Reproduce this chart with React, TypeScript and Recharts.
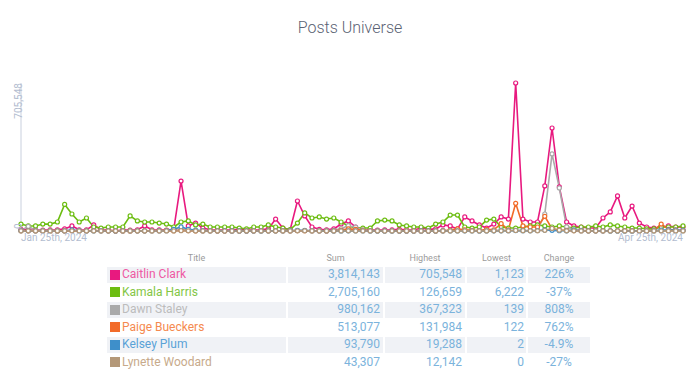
import React from 'react';
import { LineChart, Line, XAxis, YAxis } from 'recharts';

// one label per day, Jan 25th to Apr 25th 2024
const MONTHS = ['Jan', 'Feb', 'Mar', 'Apr'];
const ordinal = (d: number) => {
	if (d % 10 === 1 && d !== 11) return d + 'st';
	if (d % 10 === 2 && d !== 12) return d + 'nd';
	if (d % 10 === 3 && d !== 13) return d + 'rd';
	return d + 'th';
};
const DAYS: string[] = [];
for (let t = new Date(2024, 0, 25); t <= new Date(2024, 3, 25); t.setDate(t.getDate() + 1)) {
	DAYS.push(`${MONTHS[t.getMonth()]} ${ordinal(t.getDate())}, 2024`);
}

const Y_TICKS = [0, 705548];

const caitlin = [
	8000, 6000, 5000, 4000, 5000, 6000, 10000, 24000, 6000, 5000,
	29000, 6000, 5000, 1123, 5000, 4000, 6000, 24000, 6000, 5000,
	4000, 8000, 238000, 24000, 38000, 14000, 6000, 5000, 4000, 5000,
	8000, 4000, 5000, 6000, 10000, 57000, 14000, 6000, 143000, 72000,
	19000, 8000, 6000, 10000, 33000, 48000, 19000, 6000, 5000, 4000,
	5000, 6000, 8000, 6000, 5000, 14000, 8000, 10000, 29000, 24000,
	10000, 67000, 48000, 29000, 14000, 33000, 67000, 57000, 705548, 57000,
	43000, 43000, 215000, 491000, 210000, 43000, 24000, 19000, 14000, 14000,
	62000, 91000, 167000, 62000, 119000, 38000, 19000, 14000, 19000, 24000,
	19000, 19000,
];
const kamala = [
	33000, 24000, 24000, 33000, 33000, 43000, 126659, 81000, 43000, 62000,
	19000, 14000, 19000, 19000, 19000, 72000, 48000, 43000, 43000, 38000,
	33000, 19000, 43000, 48000, 29000, 33000, 19000, 19000, 19000, 19000,
	14000, 10000, 19000, 19000, 29000, 19000, 14000, 6222, 38000, 86000,
	62000, 67000, 57000, 62000, 43000, 24000, 14000, 14000, 14000, 48000,
	52000, 48000, 29000, 24000, 19000, 19000, 14000, 33000, 43000, 76000,
	76000, 19000, 14000, 19000, 52000, 57000, 19000, 14000, 14000, 19000,
	24000, 29000, 24000, 19000, 24000, 19000, 14000, 19000, 19000, 24000,
	19000, 29000, 24000, 19000, 14000, 14000, 10000, 10000, 19000, 19000,
	19000, 24000,
];
const dawn = [
	3000, 22000, 4000, 2000, 1500, 1200, 1500, 3000, 1500, 1200,
	1500, 1200, 1000, 900, 800, 1000, 1200, 1500, 1000, 900,
	1200, 2000, 5000, 3000, 2000, 1500, 1200, 1000, 900, 800,
	700, 800, 900, 1000, 1200, 1500, 1200, 1000, 2000, 3000,
	1500, 1200, 1500, 3000, 12000, 25000, 18000, 5000, 2000, 1500,
	1200, 1000, 900, 800, 700, 600, 500, 800, 1000, 1500,
	2000, 2500, 2000, 1500, 1200, 2000, 4000, 2500, 3000, 2000,
	2000, 4000, 81000, 367323, 205000, 20000, 6000, 3000, 2000, 1500,
	1200, 1000, 800, 600, 500, 400, 300, 139, 400, 600,
	500, 800,
];
const paige = [
	1000, 800, 600, 500, 400, 500, 600, 1500, 800, 600,
	2500, 800, 600, 500, 400, 500, 600, 800, 1500, 2000,
	3000, 1500, 4000, 2000, 1000, 800, 600, 500, 400, 300,
	300, 400, 500, 600, 800, 1000, 800, 600, 2000, 1500,
	800, 600, 500, 600, 4000, 10000, 8000, 3000, 1500, 1000,
	800, 600, 500, 400, 300, 122, 300, 500, 1500, 4000,
	10000, 6000, 3000, 2000, 8000, 6000, 35000, 6000, 131984, 24000,
	19000, 19000, 70000, 10000, 5000, 3000, 2000, 1500, 1000, 800,
	1000, 1200, 1500, 2000, 1500, 1000, 1500, 3000, 33000, 8000,
	5000, 3000,
];
const kelsey = [
	1500, 1200, 1000, 800, 700, 600, 800, 5000, 1500, 1000,
	800, 700, 600, 500, 600, 700, 800, 1000, 1200, 1500,
	2000, 8000, 19288, 8000, 4000, 1500, 1000, 800, 600, 500,
	400, 300, 400, 500, 600, 800, 1000, 1500, 3000, 2500,
	1200, 800, 600, 500, 400, 600, 800, 600, 500, 400,
	300, 200, 100, 2, 100, 200, 300, 400, 600, 800,
	1000, 800, 600, 500, 600, 800, 1000, 1500, 2000, 1500,
	1200, 2500, 5000, 3000, 1500, 1000, 4000, 1500, 1000, 800,
	600, 500, 400, 300, 400, 600, 1000, 2000, 4000, 5000,
	4000, 3000,
];
const lynette = [
	800, 600, 500, 400, 300, 400, 500, 600, 500, 400,
	300, 400, 500, 400, 300, 200, 300, 400, 500, 400,
	300, 400, 1500, 800, 500, 400, 300, 200, 100, 0,
	100, 200, 300, 400, 300, 200, 300, 400, 800, 600,
	400, 300, 200, 300, 400, 600, 500, 400, 300, 200,
	100, 200, 300, 200, 100, 0, 100, 200, 300, 400,
	500, 600, 500, 400, 500, 600, 800, 1000, 2500, 1500,
	800, 1000, 3000, 12142, 4000, 1000, 600, 500, 400, 300,
	200, 300, 400, 300, 200, 300, 400, 500, 600, 500,
	400, 300,
];

// table
const NAMES = ['Caitlin Clark', 'Kamala Harris', 'Dawn Staley', 'Paige Bueckers', 'Kelsey Plum', 'Lynette Woodard'];
const KEYS = ['caitlin', 'kamala', 'dawn', 'paige', 'kelsey', 'lynette'];
const SERIES = [caitlin, kamala, dawn, paige, kelsey, lynette];
const COLORS = ['#e8197f', '#6cbd11', '#aaaaaa', '#f26b29', '#3e8fca', '#b49878'];
const TEXT_COLORS = ['#ee5aa3', '#83c645', '#bcbcbc', '#f58a4f', '#5aa2d7', '#c7aa8b'];
const SUMS = ['3,814,143', '2,705,160', '980,162', '513,077', '93,790', '43,307'];
const HIGHS = ['705,548', '126,659', '367,323', '131,984', '19,288', '12,142'];
const LOWS = ['1,123', '6,222', '139', '122', '2', '0'];
const CHANGES = ['226%', '-37%', '808%', '762%', '-4.9%', '-27%'];
const HEADERS = ['Title', 'Sum', 'Highest', 'Lowest', 'Change'];

const chartData = DAYS.map((date, i) => {
	const row: Record<string, string | number> = { date };
	KEYS.forEach((k, s) => {
		row[k] = SERIES[s][i];
	});
	return row;
});

const FONT = 'Roboto, "Open Sans", sans-serif';
const NUM_COLOR = '#7bb3dc';

const YTick = (props: any) => {
	const { x, y, payload } = props;
	const top = payload.value !== 0;
	const ty = top ? y : y - 2;
	return (
		<text
			x={x + 9}
			y={ty}
			transform={`rotate(-90, ${x + 9}, ${ty})`}
			textAnchor={top ? 'end' : 'start'}
			fontSize={10}
			fill='#b3bdd0'
			fontFamily={FONT}
		>
			{payload.value.toLocaleString('en-US')}
		</text>
	);
};

const XTick = (props: any) => {
	const { x, y, payload } = props;
	const first = payload.value === DAYS[0];
	const last = payload.value === DAYS[DAYS.length - 1];
	if (!first && !last) return <g />;
	return (
		<text x={x} y={y + 2} textAnchor={first ? 'start' : 'end'} fontSize={10} fill='#b3bdd0' fontFamily={FONT}>
			{payload.value}
		</text>
	);
};

const cols = [179, 95, 80, 59, 62];
const gridCols = cols.map((c) => c + 'px').join(' ');

const App: React.FC = () => {
	return (
		<div style={{ position: 'absolute', left: 0, top: 0, width: 700, height: 385, fontFamily: FONT, background: '#fff' }}>
			<div style={{ position: 'absolute', top: 17, left: 0, width: 700, textAlign: 'center', fontSize: 16, fontWeight: 300, color: '#5a6273', lineHeight: '22px' }}>
				Posts Universe
			</div>
			<div style={{ position: 'absolute', top: 0, left: 0 }}>
				<LineChart width={700} height={251} data={chartData} margin={{ top: 83, right: 17, bottom: 0, left: 0 }}>
					<XAxis dataKey='date' axisLine={false} tickLine={false} interval={0} height={20} tick={<XTick />} />
					<YAxis
						type='number'
						domain={[0, 705548]}
						ticks={Y_TICKS}
						width={21}
						axisLine={{ stroke: '#c9d0de' }}
						tickLine={false}
						tick={<YTick />}
					/>
					{KEYS.map((k, s) => (
						<Line
							key={k}
							dataKey={k}
							type='linear'
							stroke={COLORS[s]}
							strokeWidth={1.6}
							dot={{ r: 2, fill: '#fff', stroke: COLORS[s], strokeWidth: 1.2 }}
							activeDot={false}
							isAnimationActive={false}
						/>
					))}
				</LineChart>
			</div>
			<div
				style={{
					position: 'absolute',
					left: 107,
					top: 251,
					display: 'grid',
					gridTemplateColumns: gridCols,
					gridTemplateRows: '14px',
					gridAutoRows: '15.5px',
					columnGap: 2,
					rowGap: 2,
				}}
			>
				{HEADERS.map((h) => (
					<div key={h} style={{ fontSize: 9, color: '#9b9b9b', textAlign: 'center', lineHeight: '14px' }}>
						{h}
					</div>
				))}
				{NAMES.map((name, r) => {
					const bg = r % 2 === 0 ? '#f0f2f6' : 'transparent';
					const cell: React.CSSProperties = { background: bg, fontSize: 12, lineHeight: '15.5px', color: NUM_COLOR, whiteSpace: 'nowrap' };
					return (
						<React.Fragment key={name}>
							<div style={{ ...cell, display: 'flex', alignItems: 'center', color: TEXT_COLORS[r] }}>
								<span style={{ display: 'inline-block', width: 10, height: 10, background: COLORS[r], marginLeft: 3, marginRight: 2 }} />
								{name}
							</div>
							<div style={{ ...cell, textAlign: 'right', paddingRight: 3 }}>{SUMS[r]}</div>
							<div style={{ ...cell, textAlign: 'right', paddingRight: 3 }}>{HIGHS[r]}</div>
							<div style={{ ...cell, textAlign: 'right', paddingRight: 2 }}>{LOWS[r]}</div>
							<div style={{ ...cell, textAlign: 'center' }}>{CHANGES[r]}</div>
						</React.Fragment>
					);
				})}
			</div>
		</div>
	);
};

export default App;
